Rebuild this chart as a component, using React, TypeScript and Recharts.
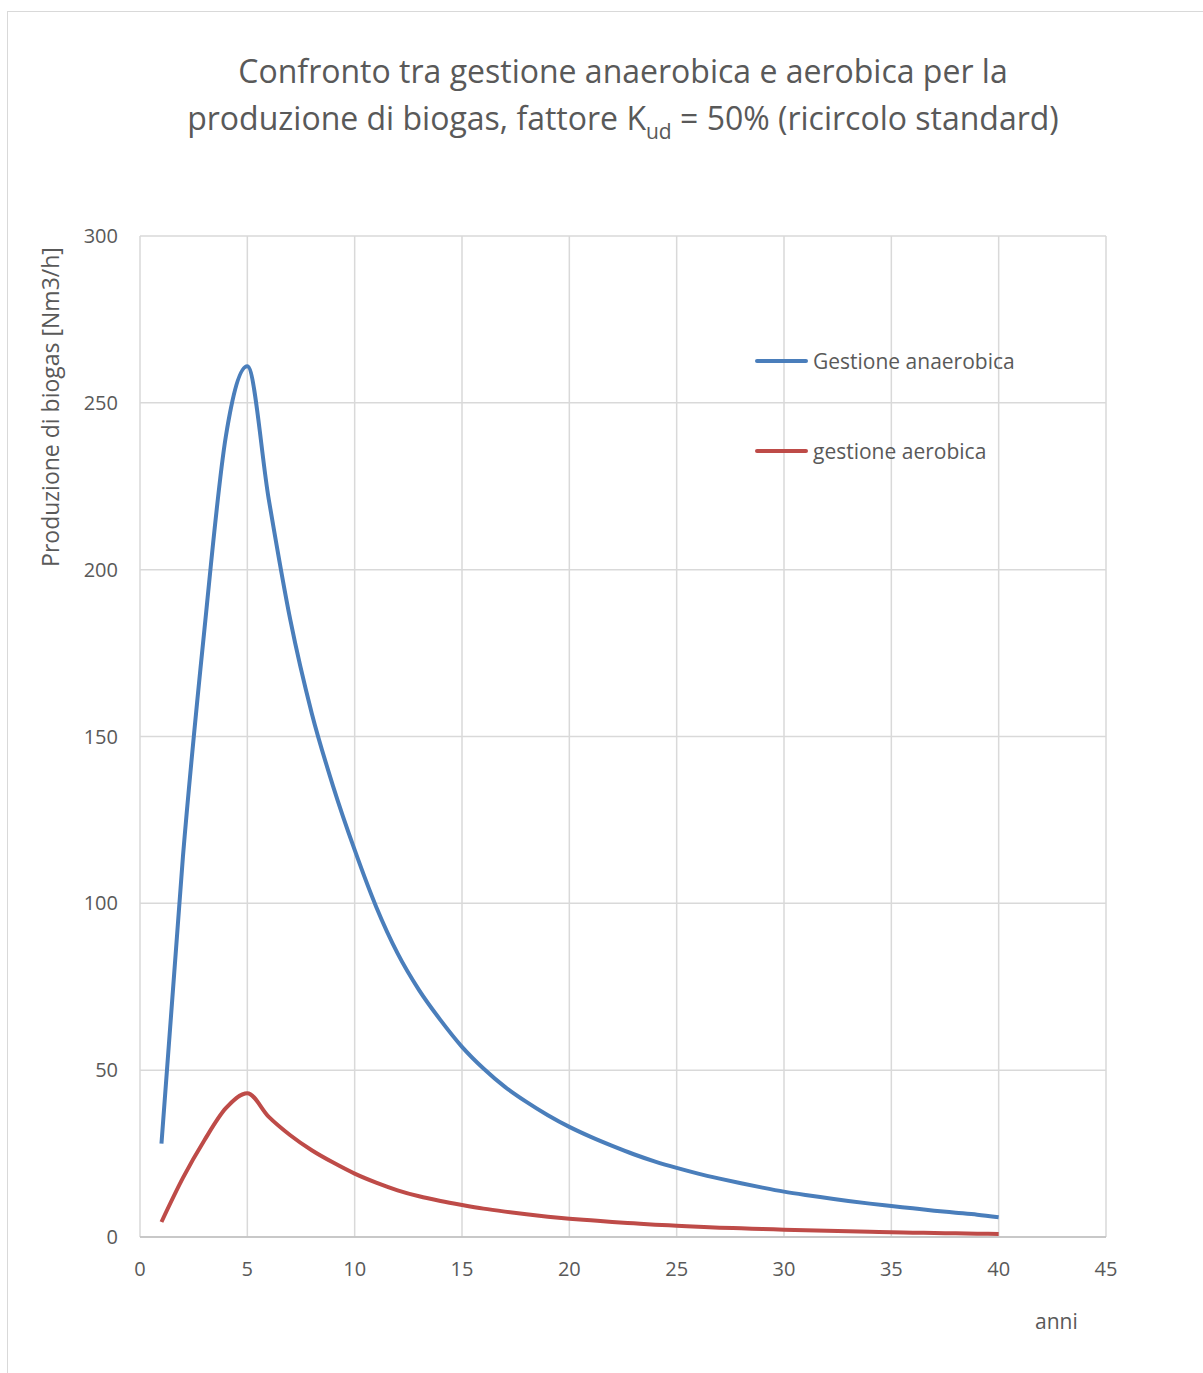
import React from "react";
import { LineChart, Line, XAxis, YAxis, CartesianGrid, Legend } from "recharts";

const FONT = '"Open Sans", sans-serif';
const TEXT = "#595959";
const GRID = "#d9d9d9";
const BLUE = "#4a7ebb";
const RED = "#be4b48";

// anni di gestione
const anni = [
  1, 2, 3, 4, 5, 6, 7, 8, 9, 10, 11, 12, 13, 14, 15, 16, 17, 18, 19, 20,
  21, 22, 23, 24, 25, 26, 27, 28, 29, 30, 31, 32, 33, 34, 35, 36, 37, 38, 39, 40,
];

// produzione di biogas [Nm3/h]
const anaerobica = [
  28, 114, 182, 240, 261, 221, 185, 157, 135, 116, 99, 85, 74, 65, 57, 50.5, 45, 40.5, 36.5, 33,
  30, 27.3, 24.8, 22.6, 20.7, 19, 17.5, 16.1, 14.8, 13.6, 12.6, 11.7, 10.8, 10, 9.3, 8.6, 7.9, 7.3, 6.7, 5.9,
];
const aerobica = [
  4.5, 17.7, 29, 38.6, 43.1, 36, 30.5, 26, 22.3, 19, 16.3, 14, 12.2, 10.8, 9.6, 8.5, 7.6, 6.8, 6.1, 5.5,
  5, 4.5, 4.1, 3.7, 3.4, 3.1, 2.8, 2.6, 2.4, 2.2, 2, 1.85, 1.7, 1.55, 1.4, 1.3, 1.2, 1.1, 1, 0.9,
];

const xTicks = [0, 5, 10, 15, 20, 25, 30, 35, 40, 45];
const yTicks = [0, 50, 100, 150, 200, 250, 300];

const data = anni.map((anno, i) => ({ anno, anaerobica: anaerobica[i], aerobica: aerobica[i] }));

const W = 1203;
const H = 1373;
const Y_AXIS_W = 80;
const X_AXIS_H = 40;

function LegendBox(props: any) {
  const items = props.payload || [];
  return (
    <div style={{ fontFamily: FONT }}>
      {items.map((it: any, i: number) => (
        <div key={i} style={{ display: "flex", alignItems: "center", height: 40, marginBottom: i === 0 ? 50 : 0 }}>
          <div style={{ width: 53, height: 4, background: it.color, borderRadius: 2 }} />
          <span style={{ marginLeft: 5, fontSize: 21, color: TEXT }}>{it.value}</span>
        </div>
      ))}
    </div>
  );
}

export default function App() {
  return (
    <div style={{ position: "absolute", left: 0, top: 0, width: W, height: H, background: "#fff", overflow: "hidden" }}>
      <div style={{ position: "absolute", left: 7, top: 11, width: W, height: H, borderLeft: `1px solid ${GRID}`, borderTop: `1px solid ${GRID}` }} />
      <div
        style={{
          position: "absolute", left: 0, top: 47, width: 1246, textAlign: "center",
          fontFamily: FONT, fontSize: 32, lineHeight: "47px", color: TEXT,
        }}
      >
        Confronto tra gestione anaerobica e aerobica per la
        <br />
        produzione di biogas, fattore K
        <span style={{ fontSize: 21, position: "relative", top: 9 }}>ud</span> = 50% (ricircolo standard)
      </div>
      <div
        style={{
          position: "absolute", left: 50 - 200, top: 407 - 15, width: 400, height: 30, lineHeight: "30px",
          textAlign: "center", transform: "rotate(-90deg)", fontFamily: FONT, fontSize: 23, color: TEXT,
        }}
      >
        Produzione di biogas [Nm3/h]
      </div>
      <div style={{ position: "absolute", left: 1035, top: 1307, fontFamily: FONT, fontSize: 21, color: TEXT }}>anni</div>
      <div style={{ position: "absolute", left: 0, top: 0 }}>
        <LineChart
          width={W}
          height={H}
          data={data}
          margin={{ top: 236, right: W - 1106, bottom: H - 1237 - X_AXIS_H, left: 140 - Y_AXIS_W }}
        >
          <CartesianGrid stroke={GRID} strokeWidth={1.5} />
          <XAxis
            dataKey="anno"
            type="number"
            domain={[0, 45]}
            ticks={xTicks}
            height={X_AXIS_H}
            tickLine={false}
            tickSize={0}
            tickMargin={25}
            axisLine={{ stroke: "#bfbfbf", strokeWidth: 1.5 }}
            tick={{ fill: TEXT, fontSize: 20, fontFamily: FONT }}
          />
          <YAxis
            type="number"
            domain={[0, 300]}
            ticks={yTicks}
            width={Y_AXIS_W}
            tickLine={false}
            tickSize={0}
            tickMargin={22}
            axisLine={false}
            tick={{ fill: TEXT, fontSize: 20, fontFamily: FONT }}
          />
          <Legend
            layout="vertical"
            align="center"
            verticalAlign="middle"
            wrapperStyle={{ left: 755, top: 341, width: 300, height: 140 }}
            content={LegendBox}
          />
          <Line
            type="monotone"
            dataKey="anaerobica"
            name="Gestione anaerobica"
            stroke={BLUE}
            strokeWidth={4}
            dot={false}
            isAnimationActive={false}
          />
          <Line
            type="monotone"
            dataKey="aerobica"
            name="gestione aerobica"
            stroke={RED}
            strokeWidth={4}
            dot={false}
            isAnimationActive={false}
          />
        </LineChart>
      </div>
    </div>
  );
}
